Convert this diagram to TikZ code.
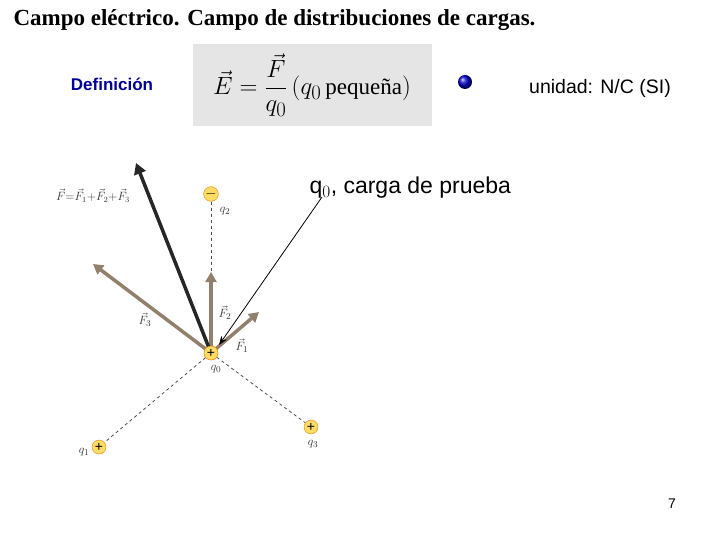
\documentclass[tikz,border=0pt]{standalone}
\usepackage{amsmath}
\usepackage{fontspec}
\setsansfont{Liberation Sans}
\setmainfont{Liberation Serif}
\usetikzlibrary{arrows.meta}
\newcommand{\fs}[1]{\fontsize{#1}{#1}\selectfont}
\begin{document}
\begin{tikzpicture}[x=1pt,y=-1pt,
  chg/.style={circle,draw=orange!70!brown,fill=yellow!60!orange!60,inner sep=0pt,minimum size=14pt,font=\sffamily\fs{14}},
  gf/.style={line width=3.5pt,draw=gray!70!brown,-{Triangle[length=10pt,width=11pt]}},
  dsh/.style={dashed,thick,draw=black!70},
  lab/.style={font=\fs{13}\itshape,text=black!80}]
\useasboundingbox (0,0) rectangle (720,540);
\node[anchor=west,font=\bfseries\fs{23}] (title) at (10,20) {Campo eléctrico. Campo de distribuciones de cargas.};
\node[font=\sffamily\bfseries\fs{17},text=blue!60!black] (def) at (112,84) {Definición};
\node[fill=black!10,minimum width=239pt,minimum height=82pt,anchor=north west] (box) at (193,44) {};
\node (form) at (312,85) {\fs{30}$\vec{E} = \dfrac{\vec{F}}{q_0}\,(q_0\,\text{\fs{23}pequeña})$};
\shade[ball color=blue!80!black] (465,82) circle (7pt);
\node[font=\sffamily\fs{19.5}] (unit) at (600,88) {unidad: N/C (SI)};
\node[font=\sffamily\fs{23},anchor=west] (prueba) at (306,188) {q$_0$, carga de prueba};
\node[font=\sffamily\fs{14}] (pg) at (672,504) {7};

\node[chg] (q0) at (211,353) {+};
\node[chg] (q2) at (211,194) {$-$};
\node[chg] (q1) at (99,447) {+};
\node[chg] (q3) at (311,427) {+};
\coordinate (f2) at (211,272);
\coordinate (f1) at (259,312);
\coordinate (f3) at (93,264);
\coordinate (ft) at (136,163);
\coordinate (pa) at (322,197);
\coordinate (pb) at (219,345);
\draw[dsh] (q0) -- (q1);
\draw[dsh] (q0) -- (q3);
\draw[dsh] (q2) -- (f2);
\draw[gf] (q0.center) -- (f2);
\draw[gf] (q0.center) -- (f1);
\draw[gf] (q0.center) -- (f3);
\draw[line width=3.5pt,draw=black!85,-{Triangle[length=11pt,width=12pt]}] (q0.center) -- (ft);
\draw[-{Stealth[length=9pt]},thick] (pa) -- (pb);
\node[chg] at (211,353) {+};
\node[lab] (l0) at (216,369) {$q_0$};
\node[lab] (l2) at (225,211) {$q_2$};
\node[lab] (l1) at (84,452) {$q_1$};
\node[lab] (l3) at (313,444) {$q_3$};
\node[lab] (lf3) at (145,320) {$\vec{F}_3$};
\node[lab] (lf2) at (225,313) {$\vec{F}_2$};
\node[lab] (lf1) at (242,346) {$\vec{F}_1$};
\node[lab,font=\fs{12}\itshape] (lf) at (93,196) {$\vec{F}{=}\vec{F}_1{+}\vec{F}_2{+}\vec{F}_3$};
\end{tikzpicture}
\end{document}
